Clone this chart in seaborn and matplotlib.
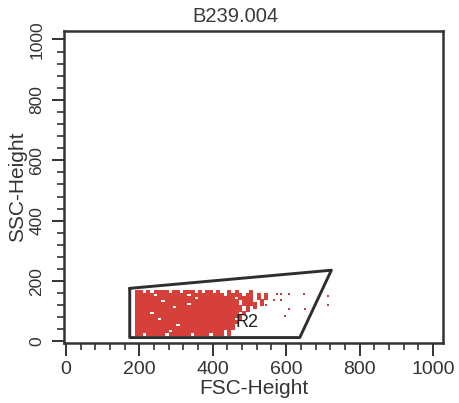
import numpy as np
import pandas as pd
import matplotlib
matplotlib.use("Agg")
import matplotlib.pyplot as plt
import seaborn as sns
from matplotlib.ticker import MultipleLocator

# ---- data ----
title = "B239.004"
x_label = "FSC-Height"
y_label = "SSC-Height"
x_ticks = [0, 200, 400, 600, 800, 1000]
y_ticks = [0, 200, 400, 600, 800, 1000]

# occupancy of the dense event cloud, 10-unit cells
grid_x0 = 195        # x centre of first column
grid_step = 10
grid_rows_y = [165, 155, 145, 135, 125, 115, 105, 95, 85, 75, 65, 55, 45, 35, 25]
grid_rows = [
    "##.#.####.##.###.#.##.#..#.#...#",
    "#####.########.#########.####.##.#.#",
    "################.##########.####.#.#",
    "#######.####################.###..#.",
    "##############.#############.####.#.",
    "##########.##################.#.#",
    "#############################.#",
    "####.#######################.#",
    "#############################",
    "######.####################.#",
    "############################",
    "###########.###############",
    "###########################",
    "#########.##############.#",
    "##.#####.######.####.###.#",
]

# sparse events to the right of the cloud
sparse_x = [546, 566, 587, 587, 609, 609, 648, 652, 597, 714, 714, 575]
sparse_y = [121, 138, 138, 158, 158, 107, 158, 107, 84, 151, 121, 158]

# gate R2 polygon vertices
gate_x = [174, 723, 637, 174, 174]
gate_y = [176, 236, 13, 13, 176]
gate_name = "R2"
gate_label_x = 493
gate_label_y = 62

# ---- build the table ----
cx, cy = [], []
for yv, row in zip(grid_rows_y, grid_rows):
    for i, ch in enumerate(row):
        if ch == "#":
            cx.append(grid_x0 + grid_step * i)
            cy.append(yv)
dense = pd.DataFrame({"FSC": cx, "SSC": cy})
sparse = pd.DataFrame({"FSC": sparse_x, "SSC": sparse_y})

sns.set_theme(style="white")
plt.rcParams["font.family"] = ["Liberation Sans", "DejaVu Sans"]

fig = plt.figure(figsize=(4.59, 4.03), dpi=100)
ax = fig.add_axes([64 / 459, 1 - 343 / 403, (443 - 64) / 459, (343 - 31) / 403])

red = "#d6403a"
sns.scatterplot(data=dense, x="FSC", y="SSC", marker="s", s=9.5, color=red,
                linewidth=0, ax=ax)
sns.scatterplot(data=sparse, x="FSC", y="SSC", marker="s", s=2.2, color="#c4403c",
                linewidth=0, ax=ax)
sns.lineplot(x=gate_x, y=gate_y, sort=False, estimator=None, color="#2e2e2e",
             linewidth=2.1, ax=ax)
ax.text(gate_label_x, gate_label_y, gate_name, fontsize=13, color="#222222",
        ha="center", va="center")

ax.set_xlim(-5, 1027)
ax.set_ylim(-5, 1028)
ax.set_xticks(x_ticks)
ax.set_yticks(y_ticks)
ax.xaxis.set_minor_locator(MultipleLocator(40))
ax.yaxis.set_minor_locator(MultipleLocator(40))
ax.set_xticklabels([str(t) for t in x_ticks], fontsize=14, color="#333333")
ax.set_yticklabels([str(t) for t in y_ticks], fontsize=12.5, color="#333333",
                   rotation=90, va="center")
ax.tick_params(axis="both", which="major", direction="out", length=9, width=1.4,
               color="#333333", left=True, bottom=True)
ax.tick_params(axis="both", which="minor", direction="out", length=5, width=1.2,
               color="#333333", left=True, bottom=True)
ax.tick_params(axis="x", which="major", pad=4)
ax.tick_params(axis="y", which="major", pad=5)
for sp in ax.spines.values():
    sp.set_color("#333333")
    sp.set_linewidth(1.8)
    sp.set_visible(True)

ax.set_xlabel(x_label, fontsize=15, color="#333333", labelpad=1)
ax.set_ylabel(y_label, fontsize=15, color="#333333", labelpad=2)
fig.text(235 / 459, 1 - 16 / 403, title, fontsize=14.5, color="#3a3a3a",
         ha="center", va="center")

fig.savefig("out.png", dpi=100, facecolor="white")
